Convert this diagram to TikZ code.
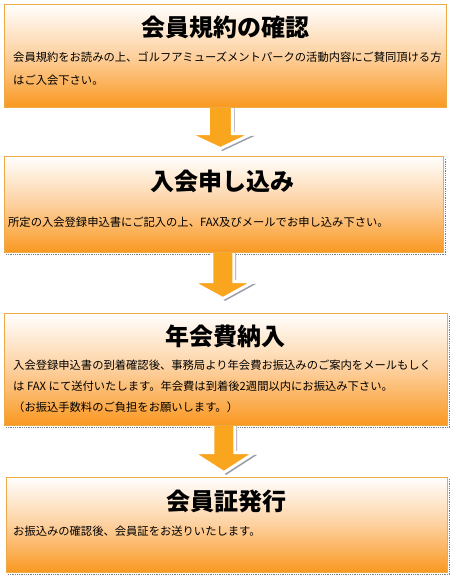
\documentclass[tikz,border=0pt]{standalone}
\usepackage{fontspec}
\setmainfont{Noto Sans CJK JP}
\usetikzlibrary{backgrounds,calc}
\definecolor{boxorange}{RGB}{250,152,32}
\definecolor{boxpeach}{RGB}{253,208,158}
\definecolor{boxedge}{RGB}{238,170,70}
\definecolor{arroworange}{RGB}{250,165,30}
\definecolor{shadowgray}{RGB}{120,125,140}
\tikzset{
  flowbox/.style={draw=boxedge, line width=0.6pt, top color=white, bottom color=boxorange, middle color=boxpeach, inner sep=0pt, anchor=north west},
  boxshadow/.style={draw=shadowgray, densely dotted, line width=0.8pt},
  titletext/.style={font=\fontsize{24}{28}\selectfont\bfseries, inner sep=0pt},
  bodytext/.style={font=\fontsize{11.3}{14}\selectfont, inner sep=0pt, anchor=west},
  arrowshadow/.style={fill=shadowgray!75},
  arrowbody/.style={fill=arroworange, draw=white, line width=3pt, line join=miter}
}
\newcommand\drawFlowArrow[6]{%
  % #1 start node anchor, #2 dx, #3 head top, #4 tip, #5 shaft half width, #6 head half width
  \begin{scope}[shift={(#1)}]
    \fill[arrowshadow, shift={(2.3,2.3)}] (#2-#5,-4) -- (#2-#5,#3) -- (#2-#6,#3) -- (#2,#4) -- (#2+#6,#3) -- (#2+#5,#3) -- (#2+#5,-4) -- cycle;
    \draw[arrowbody] (#2-#5,-4) -- (#2-#5,#3) -- (#2-#6,#3) -- (#2,#4) -- (#2+#6,#3) -- (#2+#5,#3) -- (#2+#5,-4) -- cycle;
  \end{scope}}
\begin{document}
\begin{tikzpicture}[x=1pt, y=-1pt]
  \useasboundingbox (0,0) rectangle (453,579);

  % boxes
  \node[flowbox, minimum width=442pt, minimum height=103pt] (b1) at (4,4) {};
  \node[flowbox, minimum width=439pt, minimum height=96pt] (b2) at (4,156) {};
  \node[flowbox, minimum width=443pt, minimum height=112pt] (b3) at (4,313) {};
  \node[flowbox, minimum width=441pt, minimum height=95pt] (b4) at (6,477) {};

  \begin{scope}[on background layer]
    \fill[white] (0,0) rectangle (453,579);
    \draw[boxshadow] ([shift={(2,2)}]b2.south west) -- ([shift={(2,2)}]b2.south east) -- ([shift={(2,2)}]b2.north east);
    \draw[boxshadow] ([shift={(2,2)}]b3.south west) -- ([shift={(2,2)}]b3.south east) -- ([shift={(2,2)}]b3.north east);
    \draw[boxshadow] ([shift={(2,2)}]b4.south west) -- ([shift={(2,2)}]b4.south east) -- ([shift={(2,2)}]b4.north east);
    \drawFlowArrow{b1.south}{-5}{26}{41}{12}{32}
    \drawFlowArrow{b2.south}{-1}{29}{46}{11}{31}
    \drawFlowArrow{b3.south}{-2}{27}{47}{11}{31}
  \end{scope}

  % titles
  \node[titletext] (t1) at (225,27) {会員規約の確認};
  \node[titletext] (t2) at (222,181) {入会申し込み};
  \node[titletext] (t3) at (225,336) {年会費納入};
  \node[titletext] (t4) at (226,501) {会員証発行};

  % body texts
  \node[bodytext] (d1a) at (13,57) {会員規約をお読みの上、ゴルフアミューズメントパークの活動内容にご賛同頂ける方};
  \node[bodytext] (d1b) at (13,80) {はご入会下さい。};
  \node[bodytext] (d2a) at (8,222) {所定の入会登録申込書にご記入の上、FAX及びメールでお申し込み下さい。};
  \node[bodytext] (d3a) at (13,365) {入会登録申込書の到着確認後、事務局より年会費お振込みのご案内をメールもしく};
  \node[bodytext] (d3b) at (13,386) {は FAX にて送付いたします。年会費は到着後2週間以内にお振込み下さい。};
  \node[bodytext] (d3c) at (13,407) {（お振込手数料のご負担をお願いします。）};
  \node[bodytext] (d4a) at (13,531) {お振込みの確認後、会員証をお送りいたします。};
\end{tikzpicture}
\end{document}
